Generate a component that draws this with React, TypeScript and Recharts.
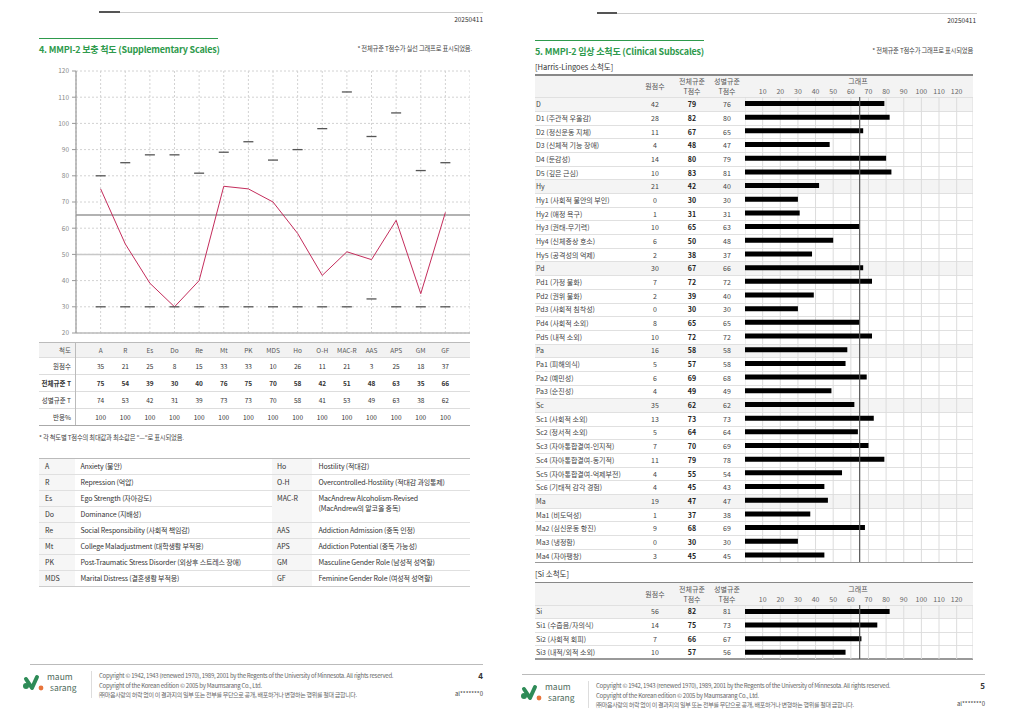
import React from 'react';
import {
  ComposedChart,
  Line,
  BarChart,
  Bar,
  XAxis,
  YAxis,
  CartesianGrid,
  ReferenceLine,
} from 'recharts';

// ---- page 4: supplementary scales ----
const SCALES = ['A', 'R', 'Es', 'Do', 'Re', 'Mt', 'PK', 'MDS', 'Ho', 'O-H', 'MAC-R', 'AAS', 'APS', 'GM', 'GF'];
const RAW = [35, 21, 25, 8, 15, 33, 33, 10, 26, 11, 21, 3, 25, 18, 37];
const TOTAL_T = [75, 54, 39, 30, 40, 76, 75, 70, 58, 42, 51, 48, 63, 35, 66];
const GENDER_T = [74, 53, 42, 31, 39, 73, 73, 70, 58, 41, 53, 49, 63, 38, 62];
const RESPONSE = [100, 100, 100, 100, 100, 100, 100, 100, 100, 100, 100, 100, 100, 100, 100];
const MAX_T = [80, 85, 88, 88, 81, 89, 93, 86, 90, 98, 112, 95, 104, 82, 85];
const MIN_T = [30, 30, 30, 30, 30, 30, 30, 30, 30, 30, 30, 33, 30, 30, 30];
const Y_TICKS = [20, 30, 40, 50, 60, 70, 80, 90, 100, 110, 120];

const LEGEND_LEFT = [
  ['A', 'Anxiety (불안)'],
  ['R', 'Repression (억압)'],
  ['Es', 'Ego Strength (자아강도)'],
  ['Do', 'Dominance (지배성)'],
  ['Re', 'Social Responsibility (사회적 책임감)'],
  ['Mt', 'College Maladjustment (대학생활 부적응)'],
  ['PK', 'Post-Traumatic Stress Disorder (외상후 스트레스 장애)'],
  ['MDS', 'Marital Distress (결혼생활 부적응)'],
];
const LEGEND_RIGHT = [
  ['Ho', 'Hostility (적대감)'],
  ['O-H', 'Overcontrolled-Hostility (적대감 과잉통제)'],
  ['MAC-R', 'MacAndrew Alcoholism-Revised', '(MacAndrew의 알코올 중독)'],
  ['AAS', 'Addiction Admission (중독 인정)'],
  ['APS', 'Addiction Potential (중독 가능성)'],
  ['GM', 'Masculine Gender Role (남성적 성역할)'],
  ['GF', 'Feminine Gender Role (여성적 성역할)'],
];

// ---- page 5: clinical subscales ----
const HL_LABELS = [
  'D', 'D1 (주관적 우울감)', 'D2 (정신운동 지체)', 'D3 (신체적 기능 장애)', 'D4 (둔감성)', 'D5 (깊은 근심)',
  'Hy', 'Hy1 (사회적 불안의 부인)', 'Hy2 (애정 욕구)', 'Hy3 (권태-무기력)', 'Hy4 (신체증상 호소)', 'Hy5 (공격성의 억제)',
  'Pd', 'Pd1 (가정 불화)', 'Pd2 (권위 불화)', 'Pd3 (사회적 침착성)', 'Pd4 (사회적 소외)', 'Pd5 (내적 소외)',
  'Pa', 'Pa1 (피해의식)', 'Pa2 (예민성)', 'Pa3 (순진성)',
  'Sc', 'Sc1 (사회적 소외)', 'Sc2 (정서적 소외)', 'Sc3 (자아통합결여-인지적)', 'Sc4 (자아통합결여-동기적)', 'Sc5 (자아통합결여-억제부전)', 'Sc6 (기태적 감각 경험)',
  'Ma', 'Ma1 (비도덕성)', 'Ma2 (심신운동 항진)', 'Ma3 (냉정함)', 'Ma4 (자아팽창)',
];
const HL_RAW = [42, 28, 11, 4, 14, 10, 21, 0, 1, 10, 6, 2, 30, 7, 2, 0, 8, 10, 16, 5, 6, 4, 35, 13, 5, 7, 11, 4, 4, 19, 1, 9, 0, 3];
const HL_TOTAL = [79, 82, 67, 48, 80, 83, 42, 30, 31, 65, 50, 38, 67, 72, 39, 30, 65, 72, 58, 57, 69, 49, 62, 73, 64, 70, 79, 55, 45, 47, 37, 68, 30, 45];
const HL_GENDER = [76, 80, 65, 47, 79, 81, 40, 30, 31, 63, 48, 37, 66, 72, 40, 30, 65, 72, 58, 58, 68, 49, 62, 73, 64, 69, 78, 54, 43, 47, 38, 69, 30, 45];

const SI_LABELS = ['Si', 'Si1 (수줍음/자의식)', 'Si2 (사회적 회피)', 'Si3 (내적/외적 소외)'];
const SI_RAW = [56, 14, 7, 10];
const SI_TOTAL = [82, 75, 66, 57];
const SI_GENDER = [81, 73, 67, 56];

const BAR_TICKS = [10, 20, 30, 40, 50, 60, 70, 80, 90, 100, 110, 120];

const FONT = '"Noto Sans CJK KR", "Noto Sans", sans-serif';
const GREEN = '#2e9a4c';

function Txt({ x, y, children, align = 'left', size = 7, bold = false, color = '#444', style = {} }: any) {
  const tx = align === 'left' ? '0' : align === 'center' ? '-50%' : '-100%';
  return (
    <div
      style={{
        position: 'absolute',
        left: x,
        top: y,
        transform: `translate(${tx}, -50%)`,
        fontSize: size,
        fontWeight: bold ? 700 : 400,
        color,
        whiteSpace: 'nowrap',
        lineHeight: 1,
        ...style,
      }}
    >
      {children}
    </div>
  );
}

function Box({ x, y, w, h, bg, style = {} }: any) {
  return <div style={{ position: 'absolute', left: x, top: y, width: w, height: h, background: bg, ...style }} />;
}

function HLine({ x, y, w, color = '#ddd', t = 1 }: any) {
  return <Box x={x} y={y} w={w} h={t} bg={color} />;
}

const renderDash = (props: any) => {
  const { cx, cy, index, dataKey } = props;
  if (cx == null || cy == null) return <g key={`${dataKey}-${index}`} />;
  return <line key={`${dataKey}-${index}`} x1={cx - 5} x2={cx + 5} y1={cy} y2={cy} stroke="#555" strokeWidth={1.3} />;
};

function Logo({ x, y }: any) {
  return (
    <div style={{ position: 'absolute', left: x, top: y }}>
      <svg width={64} height={26}>
        <circle cx={4} cy={16} r={3} fill="#2e8b57" />
        <path d="M4 9 L10 18 L15 7" stroke="#2e8b57" strokeWidth={4} fill="none" strokeLinecap="round" strokeLinejoin="round" />
        <circle cx={19} cy={18} r={2.4} fill="#e8743b" />
        <text x={25} y={10} fontSize={8.5} fill="#4d6b5c" fontFamily={FONT}>maum</text>
        <text x={28} y={21} fontSize={8.5} fill="#4d6b5c" fontFamily={FONT}>sarang</text>
      </svg>
    </div>
  );
}

function Footer({ x0, x1, lineY, logoX, logoY, divX, textX, textY, page }: any) {
  return (
    <>
      <HLine x={x0} y={lineY} w={x1 - x0} color="#bbb" t={1.5} />
      <Logo x={logoX} y={logoY} />
      <Box x={divX} y={textY - 5} w={1} h={27} bg="#ddd" />
      <Txt x={textX} y={textY} size={6} color="#666" style={{ letterSpacing: -0.25 }}>
        Copyright © 1942, 1943 (renewed 1970), 1989, 2001 by the Regents of the University of Minnesota. All rights reserved.
      </Txt>
      <Txt x={textX} y={textY + 9.5} size={6} color="#666" style={{ letterSpacing: -0.25 }}>
        Copyright of the Korean edition © 2005 by Maumsarang Co., Ltd.
      </Txt>
      <Txt x={textX} y={textY + 19} size={6} color="#666" style={{ letterSpacing: -0.3 }}>
        ㈜마음사랑의 허락 없이 이 결과지의 일부 또는 전부를 무단으로 공개, 배포하거나 변형하는 행위를 절대 금합니다.
      </Txt>
      <Txt x={x1} y={textY} align="right" size={8} bold color="#333">{page}</Txt>
      <Txt x={x1} y={textY + 18} align="right" size={6} color="#444">al*******0</Txt>
    </>
  );
}

// left chart geometry
const L_CHART_X = 36;
const L_YAXIS_W = 40;
const L_PLOT_W = 394;
const L_PLOT_X = L_CHART_X + L_YAXIS_W;
const catX = (i: number) => L_PLOT_X + ((i + 1) * L_PLOT_W) / 16;

// right table geometry
const R_X0 = 535;
const R_X1 = 973;
const BAR_X = 745;
const BAR_W = R_X1 - BAR_X;
const PX_PER_UNIT = 1.764;
const COL_RAW = 655;
const COL_TOT = 692;
const COL_GEN = 727;

function SubscaleTable({ top, headerH, rowH, labels, raw, total, gender }: any) {
  const rowsTop = top + headerH;
  const data = labels.map((l: string, i: number) => ({ name: l, t: total[i] }));
  const axisH = 20;
  return (
    <>
      <Box x={R_X0} y={top} w={R_X1 - R_X0} h={headerH} bg="#f3f3f3" />
      <HLine x={R_X0} y={top} w={R_X1 - R_X0} color="#888" t={1.5} />
      <Txt x={COL_RAW} y={top + headerH / 2 + 0.5} align="center" size={7} color="#555">원점수</Txt>
      <Txt x={COL_TOT} y={top + 7} align="center" size={7} color="#555">전체규준</Txt>
      <Txt x={COL_TOT} y={top + 17} align="center" size={7} color="#555">T점수</Txt>
      <Txt x={COL_GEN} y={top + 7} align="center" size={7} color="#555">성별규준</Txt>
      <Txt x={COL_GEN} y={top + 17} align="center" size={7} color="#555">T점수</Txt>
      <Txt x={858} y={top + 7} align="center" size={7} color="#555">그래프</Txt>
      {labels.map((l: string, i: number) => {
        const y = rowsTop + i * rowH;
        const main = !l.includes('(');
        return (
          <React.Fragment key={l}>
            {main && <Box x={R_X0} y={y} w={R_X1 - R_X0} h={rowH} bg="#f4f4f4" />}
            <HLine x={R_X0} y={y} w={R_X1 - R_X0} color="#e0e0e0" />
            <Txt x={R_X0 + 1} y={y + rowH / 2} size={7} color="#444">{l}</Txt>
            <Txt x={COL_RAW} y={y + rowH / 2} align="center" size={7} color="#444">{raw[i]}</Txt>
            <Txt x={COL_TOT} y={y + rowH / 2} align="center" size={7} bold color="#222">{total[i]}</Txt>
            <Txt x={COL_GEN} y={y + rowH / 2} align="center" size={7} color="#444">{gender[i]}</Txt>
          </React.Fragment>
        );
      })}
      <HLine x={R_X0} y={rowsTop + labels.length * rowH - 0.5} w={R_X1 - R_X0} color="#999" t={1.5} />
      <div style={{ position: 'absolute', left: BAR_X, top: rowsTop - axisH }}>
        <BarChart
          width={BAR_W}
          height={axisH + labels.length * rowH}
          data={data}
          layout="vertical"
          margin={{ top: 0, right: 0, left: 0, bottom: 0 }}
        >
          <CartesianGrid horizontal={false} stroke="#dcdcdc" />
          <XAxis
            type="number"
            orientation="top"
            domain={[0, BAR_W / PX_PER_UNIT]}
            ticks={BAR_TICKS}
            interval={0}
            height={axisH}
            axisLine={false}
            tickLine={false}
            tickSize={2}
            tickMargin={1}
            tick={{ fontSize: 7, fill: '#666', fontFamily: FONT }}
          />
          <YAxis type="category" dataKey="name" hide />
          <Bar dataKey="t" fill="#000" barSize={5} isAnimationActive={false} />
          <ReferenceLine x={65} stroke="#555" strokeWidth={1.2} />
        </BarChart>
      </div>
    </>
  );
}

export default function App() {
  const lineData = SCALES.map((s, i) => ({ x: i + 1, name: s, t: TOTAL_T[i], max: MAX_T[i], min: MIN_T[i] }));
  const tableRows = [
    { label: '원점수', values: RAW, bold: false },
    { label: '전체규준 T', values: TOTAL_T, bold: true },
    { label: '성별규준 T', values: GENDER_T, bold: false },
    { label: '반응%', values: RESPONSE, bold: false },
  ];
  const rowLines = [357, 373.5, 390.5, 408, 425];
  const legendTop = 457.5;
  const legendH = 16.1;

  return (
    <div
      style={{
        position: 'absolute',
        left: 0,
        top: 0,
        width: 1012,
        height: 720,
        background: '#fff',
        fontFamily: FONT,
        overflow: 'hidden',
      }}
    >
      {/* ===== page 4 ===== */}
      <HLine x={99} y={11.5} w={384} color="#ccc" />
      <HLine x={99} y={11} w={21} color="#555" t={1.5} />
      <Txt x={483} y={19} align="right" size={6.5} color="#333">20250411</Txt>
      <HLine x={39} y={37.5} w={179} color={GREEN} t={1.5} />
      <Txt x={39} y={49} size={9} bold color={GREEN} style={{ letterSpacing: -0.2 }}>
        4. MMPI-2 보충 척도 (Supplementary Scales)
      </Txt>
      <Txt x={472} y={49} align="right" size={6.3} color="#444" style={{ letterSpacing: -0.2 }}>
        * 전체규준 T점수가 실선 그래프로 표시되었음.
      </Txt>

      <div style={{ position: 'absolute', left: L_CHART_X, top: 60 }}>
        <ComposedChart
          width={L_YAXIS_W + L_PLOT_W}
          height={280}
          data={lineData}
          margin={{ top: 11, right: 0, left: 0, bottom: 7 }}
        >
          <CartesianGrid strokeDasharray="2 2" stroke="#d2d2d2" />
          <XAxis
            type="number"
            dataKey="x"
            domain={[0, 16]}
            ticks={[0, 1, 2, 3, 4, 5, 6, 7, 8, 9, 10, 11, 12, 13, 14, 15, 16]}
            interval={0}
            hide
          />
          <YAxis
            type="number"
            domain={[20, 120]}
            ticks={Y_TICKS}
            interval={0}
            width={L_YAXIS_W}
            axisLine={{ stroke: '#999', strokeWidth: 1.2 }}
            tickLine={{ stroke: '#999' }}
            tickSize={4}
            tickMargin={3}
            tick={{ fontSize: 6.5, fill: '#888', fontFamily: FONT }}
          />
          <ReferenceLine y={20} stroke="#bbb" strokeWidth={1.5} />
          <ReferenceLine y={50} stroke="#c8c8c8" strokeWidth={1.5} />
          <ReferenceLine y={65} stroke="#999" strokeWidth={1.5} />
          <Line
            dataKey="max"
            stroke="none"
            dot={renderDash}
            activeDot={false}
            isAnimationActive={false}
          />
          <Line
            dataKey="min"
            stroke="none"
            dot={renderDash}
            activeDot={false}
            isAnimationActive={false}
          />
          <Line
            type="linear"
            dataKey="t"
            stroke="#c42d5c"
            strokeWidth={1}
            dot={false}
            activeDot={false}
            isAnimationActive={false}
          />
        </ComposedChart>
      </div>

      {/* score table */}
      <Box x={39} y={342} w={431} h={15} bg="#f2f2f2" />
      <HLine x={39} y={341.5} w={431} color="#bbb" />
      {rowLines.map((y, i) => (
        <HLine key={y} x={39} y={y} w={431} color={i === rowLines.length - 1 ? '#aaa' : '#ddd'} t={i === rowLines.length - 1 ? 1.2 : 1} />
      ))}
      <Box x={75} y={342} w={1} h={83} bg="#bbb" />
      <Txt x={71} y={349.5} align="right" size={6.5} color="#555">척도</Txt>
      {SCALES.map((s, i) => (
        <Txt key={s} x={catX(i)} y={349.5} align="center" size={6.5} color="#555">{s}</Txt>
      ))}
      {tableRows.map((r, ri) => {
        const y = (rowLines[ri] + rowLines[ri + 1]) / 2 + 0.5;
        return (
          <React.Fragment key={r.label}>
            <Txt x={71} y={y} align="right" size={6.5} bold={r.bold} color="#333">{r.label}</Txt>
            {r.values.map((v, i) => (
              <Txt key={i} x={catX(i)} y={y} align="center" size={6.5} bold={r.bold} color="#333">{v}</Txt>
            ))}
          </React.Fragment>
        );
      })}
      <Txt x={39} y={438} size={6.3} color="#444" style={{ letterSpacing: -0.2 }}>
        * 각 척도별 T점수의 최대값과 최소값은 "—"로 표시되었음.
      </Txt>

      {/* legend table */}
      <Box x={39} y={legendTop} w={36} h={legendH * 8} bg="#f6f6f6" />
      <Box x={272} y={legendTop} w={40} h={legendH * 8} bg="#f6f6f6" />
      <HLine x={39} y={legendTop} w={431} color="#bbb" />
      {LEGEND_LEFT.map(([a, d], i) => {
        const y = legendTop + i * legendH;
        return (
          <React.Fragment key={a}>
            {i > 0 && <HLine x={39} y={y} w={233} color="#e0e0e0" />}
            <Txt x={45} y={y + legendH / 2} size={7} color="#333">{a}</Txt>
            <Txt x={80.5} y={y + legendH / 2} size={7} color="#333" style={{ letterSpacing: -0.15 }}>{d}</Txt>
          </React.Fragment>
        );
      })}
      {LEGEND_RIGHT.map(([a, d, d2], i) => {
        const slot = i < 3 ? i : i + 1;
        const y = legendTop + slot * legendH;
        return (
          <React.Fragment key={a}>
            {slot > 0 && <HLine x={272} y={y} w={198} color="#e0e0e0" />}
            <Txt x={277} y={y + legendH / 2} size={7} color="#333">{a}</Txt>
            <Txt x={318.5} y={y + legendH / 2} size={7} color="#333" style={{ letterSpacing: -0.15 }}>{d}</Txt>
            {d2 && (
              <Txt x={318.5} y={y + legendH / 2 + 10} size={7} color="#333" style={{ letterSpacing: -0.15 }}>{d2}</Txt>
            )}
          </React.Fragment>
        );
      })}
      <HLine x={39} y={legendTop + legendH * 8} w={431} color="#ccc" />

      <Footer x0={30} x1={483} lineY={663.5} logoX={22} logoY={670} divX={91} textX={99} textY={676} page="4" />

      {/* ===== page 5 ===== */}
      <HLine x={597} y={12.5} w={380} color="#ccc" />
      <HLine x={597} y={12} w={20} color="#555" t={1.5} />
      <Txt x={976} y={20} align="right" size={6.5} color="#333">20250411</Txt>
      <HLine x={535} y={39.5} w={169} color={GREEN} t={1.5} />
      <Txt x={535} y={51} size={9} bold color={GREEN} style={{ letterSpacing: -0.2 }}>
        5. MMPI-2 임상 소척도 (Clinical Subscales)
      </Txt>
      <Txt x={973} y={51} align="right" size={6.3} color="#444" style={{ letterSpacing: -0.2 }}>
        * 전체규준 T점수가 그래프로 표시되었음
      </Txt>
      <Txt x={535} y={67} size={7.5} color="#333">[Harris-Lingoes 소척도]</Txt>

      <SubscaleTable
        top={74}
        headerH={23.3}
        rowH={13.68}
        labels={HL_LABELS}
        raw={HL_RAW}
        total={HL_TOTAL}
        gender={HL_GENDER}
      />

      <Txt x={535} y={574} size={7.5} color="#333">[Si 소척도]</Txt>
      <SubscaleTable
        top={581.5}
        headerH={23}
        rowH={13.62}
        labels={SI_LABELS}
        raw={SI_RAW}
        total={SI_TOTAL}
        gender={SI_GENDER}
      />

      <Footer x0={522} x1={985} lineY={673.5} logoX={520} logoY={680} divX={588} textX={596} textY={686} page="5" />
    </div>
  );
}
